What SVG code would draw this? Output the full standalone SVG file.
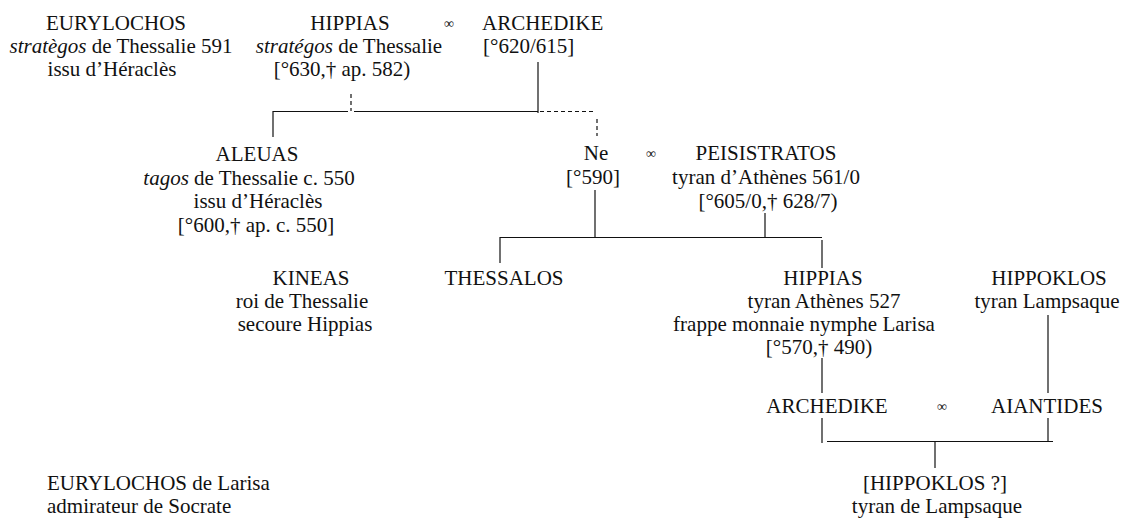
<svg xmlns="http://www.w3.org/2000/svg" width="1121" height="518" viewBox="0 0 1121 518">
<style>
text{font-family:"Liberation Serif","Times New Roman",serif;font-size:21px;fill:#111}
.m{text-anchor:middle}
.i{font-style:italic}
.inf{font-size:14px;text-anchor:middle}
.ln{stroke:#111;stroke-width:1.2;fill:none}
.ds{stroke:#111;stroke-width:1.2;fill:none;stroke-dasharray:4 3}
</style>
<rect width="1121" height="518" fill="#fff"/>
<g id="connectors">
<line class="ds" x1="351" y1="94" x2="351" y2="111"/>
<line class="ln" x1="273" y1="111.5" x2="348" y2="111.5"/>
<line class="ln" x1="354" y1="111.5" x2="538" y2="111.5"/>
<line class="ln" x1="538" y1="62" x2="538" y2="113"/>
<line class="ds" x1="540" y1="111.5" x2="594" y2="111.5"/>
<line class="ds" x1="597" y1="119" x2="597" y2="136"/>
<line class="ln" x1="273" y1="111" x2="273" y2="137"/>
<line class="ln" x1="595" y1="190" x2="595" y2="237"/>
<line class="ln" x1="765" y1="213" x2="765" y2="237"/>
<line class="ln" x1="500" y1="237.5" x2="822" y2="237.5"/>
<line class="ln" x1="500" y1="237" x2="500" y2="263"/>
<line class="ln" x1="822" y1="240" x2="822" y2="268"/>
<line class="ln" x1="822" y1="358" x2="822" y2="393"/>
<line class="ln" x1="1048" y1="315" x2="1048" y2="393"/>
<line class="ln" x1="822" y1="418" x2="822" y2="443"/>
<line class="ln" x1="1048" y1="418" x2="1048" y2="442"/>
<line class="ln" x1="827" y1="441.5" x2="1053" y2="441.5"/>
<line class="ln" x1="935" y1="441" x2="935" y2="468"/>
</g>
<g id="n-eurylochos">
<text class="m" x="116" y="30">EURYLOCHOS</text>
<text class="m" x="121" y="53"><tspan class="i">stratègos</tspan> de Thessalie 591</text>
<text class="m" x="112" y="76">issu d’Héraclès</text>
</g>
<g id="n-hippias1">
<text class="m" x="350" y="30">HIPPIAS</text>
<text class="m" x="349" y="53"><tspan class="i">stratégos</tspan> de Thessalie</text>
<text class="m" x="342" y="76">[°630,† ap. 582)</text>
</g>
<text class="inf" x="449" y="28">∞</text>
<g id="n-archedike1">
<text x="482" y="30">ARCHEDIKE</text>
<text x="483" y="53">[°620/615]</text>
</g>
<g id="n-aleuas">
<text class="m" x="257" y="161">ALEUAS</text>
<text class="m" x="249" y="185"><tspan class="i">tagos</tspan> de Thessalie c. 550</text>
<text class="m" x="258" y="208">issu d’Héraclès</text>
<text class="m" x="256" y="232">[°600,† ap. c. 550]</text>
</g>
<g id="n-ne">
<text class="m" x="596" y="160">Ne</text>
<text class="m" x="593" y="184">[°590]</text>
</g>
<text class="inf" x="651" y="158">∞</text>
<g id="n-peisistratos">
<text class="m" x="766" y="160">PEISISTRATOS</text>
<text class="m" x="766" y="184">tyran d’Athènes 561/0</text>
<text class="m" x="768" y="208">[°605/0,† 628/7)</text>
</g>
<g id="n-kineas">
<text class="m" x="311" y="285">KINEAS</text>
<text class="m" x="302" y="308">roi de Thessalie</text>
<text class="m" x="305" y="331">secoure Hippias</text>
</g>
<g id="n-thessalos">
<text class="m" x="504" y="285">THESSALOS</text>
</g>
<g id="n-hippias2">
<text class="m" x="823" y="285">HIPPIAS</text>
<text class="m" x="824" y="308">tyran Athènes 527</text>
<text class="m" x="804" y="331">frappe monnaie nymphe Larisa</text>
<text class="m" x="819" y="354">[°570,† 490)</text>
</g>
<g id="n-hippoklos">
<text class="m" x="1049" y="285">HIPPOKLOS</text>
<text class="m" x="1047" y="308">tyran Lampsaque</text>
</g>
<g id="n-archedike2">
<text class="m" x="827" y="413">ARCHEDIKE</text>
</g>
<text class="inf" x="942" y="411">∞</text>
<g id="n-aiantides">
<text class="m" x="1047" y="413">AIANTIDES</text>
</g>
<g id="n-hippoklos2">
<text class="m" x="935" y="490">[HIPPOKLOS ?]</text>
<text class="m" x="937" y="513">tyran de Lampsaque</text>
</g>
<g id="n-eurylochos2">
<text x="47" y="490">EURYLOCHOS de Larisa</text>
<text x="47" y="513">admirateur de Socrate</text>
</g>
</svg>
